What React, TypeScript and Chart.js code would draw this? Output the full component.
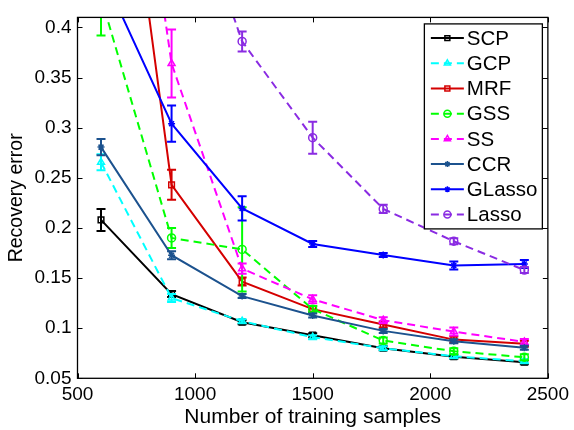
import React, { useEffect, useRef } from "react";
import { Chart, registerables } from "chart.js";

Chart.register(...registerables);

// ---------- data ----------
const samples = [600, 900, 1200, 1500, 1800, 2100, 2400];
const xTicks = [500, 1000, 1500, 2000, 2500];
const yTicks = [0.05, 0.1, 0.15, 0.2, 0.25, 0.3, 0.35, 0.4];
const xTitle = "Number of training samples";
const yTitle = "Recovery error";

const scpValues = [0.208, 0.134, 0.106, 0.093, 0.08, 0.0715, 0.066];
const scpErrors = [0.011, 0.003, 0.002, 0.002, 0.002, 0.002, 0.002];

const gcpValues = [0.2655, 0.13, 0.107, 0.091, 0.08, 0.072, 0.067];
const gcpErrors = [0.008, 0.004, 0.002, 0.002, 0.002, 0.002, 0.002];

const mrfValues = [0.77, 0.243, 0.1465, 0.119, 0.1036, 0.0886, 0.0844];
const mrfErrors = [0.02, 0.015, 0.004, 0.003, 0.003, 0.003, 0.003];

const gssValues = [0.43, 0.19, 0.1786, 0.119, 0.0877, 0.077, 0.071];
const gssErrors = [0.038, 0.01, 0.042, 0.003, 0.003, 0.003, 0.003];

const ssValues = [0.85, 0.364, 0.1594, 0.1288, 0.108, 0.0966, 0.0863];
const ssErrors = [0.03, 0.034, 0.005, 0.004, 0.003, 0.004, 0.003];

const ccrValues = [0.2806, 0.1728, 0.132, 0.1127, 0.0973, 0.087, 0.0805];
const ccrErrors = [0.008, 0.004, 0.002, 0.002, 0.002, 0.002, 0.002];

const glassoValues = [0.457, 0.304, 0.2195, 0.184, 0.173, 0.1625, 0.164];
const glassoErrors = [0.02, 0.018, 0.012, 0.003, 0.002, 0.004, 0.004];

const lassoValues = [0.9, 0.59, 0.386, 0.29, 0.219, 0.1867, 0.158];
const lassoErrors = [0.02, 0.02, 0.01, 0.016, 0.004, 0.003, 0.003];

// ---------- styles ----------
const FONT = "'Liberation Sans', Arial, Helvetica, sans-serif";
const DASH = [8, 5];

type SeriesStyle = { name: string; values: number[]; errors: number[]; color: string; dashed: boolean; marker: string };

const series: SeriesStyle[] = [
  { name: "SCP", values: scpValues, errors: scpErrors, color: "#000000", dashed: false, marker: "rect" },
  { name: "GCP", values: gcpValues, errors: gcpErrors, color: "#00ffff", dashed: true, marker: "triangle" },
  { name: "MRF", values: mrfValues, errors: mrfErrors, color: "#d40000", dashed: false, marker: "rect" },
  { name: "GSS", values: gssValues, errors: gssErrors, color: "#00ff00", dashed: true, marker: "circle" },
  { name: "SS", values: ssValues, errors: ssErrors, color: "#ff00ff", dashed: true, marker: "triangle" },
  { name: "CCR", values: ccrValues, errors: ccrErrors, color: "#1c528e", dashed: false, marker: "star" },
  { name: "GLasso", values: glassoValues, errors: glassoErrors, color: "#0000ff", dashed: false, marker: "star" },
  { name: "Lasso", values: lassoValues, errors: lassoErrors, color: "#8a2be2", dashed: true, marker: "circle" },
];

function markerRadius(m: string) {
  return m === "star" ? 3.5 : 4;
}

function drawMarker(ctx: CanvasRenderingContext2D, m: string, x: number, y: number, r: number) {
  ctx.beginPath();
  if (m === "rect") {
    const s = r * Math.SQRT1_2;
    ctx.rect(x - s, y - s, 2 * s, 2 * s);
  } else if (m === "triangle") {
    ctx.moveTo(x, y - r);
    ctx.lineTo(x + r * 0.866, y + r * 0.5);
    ctx.lineTo(x - r * 0.866, y + r * 0.5);
    ctx.closePath();
  } else if (m === "circle") {
    ctx.arc(x, y, r, 0, Math.PI * 2);
  } else {
    for (let k = 0; k < 4; k++) {
      const a = (k * Math.PI) / 4;
      ctx.moveTo(x - Math.cos(a) * r, y - Math.sin(a) * r);
      ctx.lineTo(x + Math.cos(a) * r, y + Math.sin(a) * r);
    }
  }
  ctx.stroke();
}

const errorBarPlugin = {
  id: "errorBars",
  afterDatasetDraw(chart: any, args: any) {
    const ds = chart.data.datasets[args.index];
    const errs: number[] = ds.errors;
    if (!errs) return;
    const { ctx, chartArea } = chart;
    const xs = chart.scales.x;
    const ys = chart.scales.y;
    ctx.save();
    ctx.beginPath();
    ctx.rect(chartArea.left, chartArea.top, chartArea.right - chartArea.left, chartArea.bottom - chartArea.top);
    ctx.clip();
    ctx.strokeStyle = ds.borderColor;
    ctx.lineWidth = 2;
    ctx.setLineDash([]);
    ds.data.forEach((pt: any, i: number) => {
      const e = errs[i];
      const px = xs.getPixelForValue(pt.x);
      const top = ys.getPixelForValue(pt.y + e);
      const bot = ys.getPixelForValue(pt.y - e);
      ctx.beginPath();
      ctx.moveTo(px, top);
      ctx.lineTo(px, bot);
      ctx.moveTo(px - 4.5, top);
      ctx.lineTo(px + 4.5, top);
      ctx.moveTo(px - 4.5, bot);
      ctx.lineTo(px + 4.5, bot);
      ctx.stroke();
    });
    ctx.restore();
  },
};

const framePlugin = {
  id: "frame",
  afterDatasetsDraw(chart: any) {
    const { ctx, chartArea } = chart;
    const { left, right, top, bottom } = chartArea;
    const xs = chart.scales.x;
    const ys = chart.scales.y;
    ctx.save();
    ctx.strokeStyle = "#000";
    ctx.lineWidth = 1.3;
    ctx.setLineDash([]);
    ctx.strokeRect(left, top, right - left, bottom - top);
    const tl = 5;
    ctx.lineWidth = 1;
    ctx.beginPath();
    xTicks.forEach((v) => {
      const px = Math.round(xs.getPixelForValue(v)) + 0.5;
      ctx.moveTo(px, bottom);
      ctx.lineTo(px, bottom - tl);
      ctx.moveTo(px, top);
      ctx.lineTo(px, top + tl);
    });
    yTicks.forEach((v) => {
      const py = Math.round(ys.getPixelForValue(v)) + 0.5;
      ctx.moveTo(left, py);
      ctx.lineTo(left + tl, py);
      ctx.moveTo(right, py);
      ctx.lineTo(right - tl, py);
    });
    ctx.stroke();
    ctx.restore();
  },
};

const legendPlugin = {
  id: "matLegend",
  afterDraw(chart: any) {
    const { ctx, chartArea } = chart;
    const bx = chartArea.right - 124;
    const by = chartArea.top + 6;
    const bw = 118;
    const bh = 205;
    ctx.save();
    ctx.fillStyle = "#fff";
    ctx.fillRect(bx, by, bw, bh);
    ctx.strokeStyle = "#000";
    ctx.lineWidth = 1.3;
    ctx.setLineDash([]);
    ctx.strokeRect(bx + 0.5, by + 0.5, bw, bh);
    series.forEach((s, i) => {
      const cy = by + 14.7 + i * 25.2;
      const x0 = bx + 7;
      const x1 = bx + 40;
      ctx.strokeStyle = s.color;
      ctx.lineWidth = 2;
      ctx.setLineDash(s.dashed ? DASH : []);
      ctx.beginPath();
      ctx.moveTo(x0, cy);
      ctx.lineTo(x1, cy);
      ctx.stroke();
      ctx.setLineDash([]);
      ctx.lineWidth = 1.5;
      drawMarker(ctx, s.marker, (x0 + x1) / 2, cy, markerRadius(s.marker) - 0.5);
      ctx.fillStyle = "#000";
      ctx.font = `20.5px ${FONT}`;
      ctx.textBaseline = "middle";
      ctx.textAlign = "left";
      ctx.fillText(s.name, x1 + 3, cy + 1);
    });
    ctx.restore();
  },
};

export default function App() {
  const ref = useRef<HTMLCanvasElement>(null);
  useEffect(() => {
    document.body.style.margin = "0";
    const datasets = series.map((s, idx) => ({
      label: s.name,
      data: samples.map((x, i) => ({ x, y: s.values[i] })),
      errors: s.errors,
      borderColor: s.color,
      backgroundColor: "rgba(0,0,0,0)",
      borderWidth: 2,
      borderDash: s.dashed ? DASH : [],
      pointStyle: s.marker,
      pointRadius: markerRadius(s.marker),
      pointBorderWidth: 1.5,
      pointBackgroundColor: "rgba(0,0,0,0)",
      pointBorderColor: s.color,
      tension: 0,
      fill: false,
      order: series.length - idx,
    }));
    const chart = new Chart(ref.current as HTMLCanvasElement, {
      type: "line",
      data: { datasets } as any,
      plugins: [errorBarPlugin, framePlugin, legendPlugin],
      options: {
        animation: false,
        responsive: false,
        devicePixelRatio: 1,
        layout: { padding: { top: 5, right: 24, left: 0, bottom: 0 } },
        plugins: { legend: { display: false }, tooltip: { enabled: false } },
        scales: {
          x: {
            type: "linear",
            min: 500,
            max: 2500,
            afterBuildTicks: (s: any) => {
              s.ticks = xTicks.map((v) => ({ value: v }));
            },
            afterFit: (s: any) => {
              s.height = 51.7;
            },
            grid: { display: false, drawTicks: false },
            border: { display: false },
            ticks: {
              color: "#000",
              font: { family: FONT, size: 19 },
              padding: 5,
              maxRotation: 0,
              autoSkip: false,
              callback: (v: any) => String(v),
            },
            title: {
              display: true,
              text: xTitle,
              color: "#000",
              font: { family: FONT, size: 21 },
              padding: { top: 3, bottom: 0 },
            },
          },
          y: {
            type: "linear",
            min: 0.05,
            max: 0.41,
            afterBuildTicks: (s: any) => {
              s.ticks = yTicks.map((v) => ({ value: v }));
            },
            afterFit: (s: any) => {
              s.width = 77.5;
            },
            grid: { display: false, drawTicks: false },
            border: { display: false },
            ticks: {
              color: "#000",
              font: { family: FONT, size: 19 },
              padding: 6,
              autoSkip: false,
              callback: (v: any) => String(v),
            },
            title: {
              display: true,
              text: yTitle,
              color: "#000",
              font: { family: FONT, size: 19.5 },
              padding: { top: 5, bottom: 0 },
            },
          },
        },
      } as any,
    });
    return () => chart.destroy();
  }, []);
  return (
    <div style={{ width: 574, height: 430 }}>
      <canvas ref={ref} width={574} height={430} style={{ display: "block", width: 574, height: 430 }} />
    </div>
  );
}
